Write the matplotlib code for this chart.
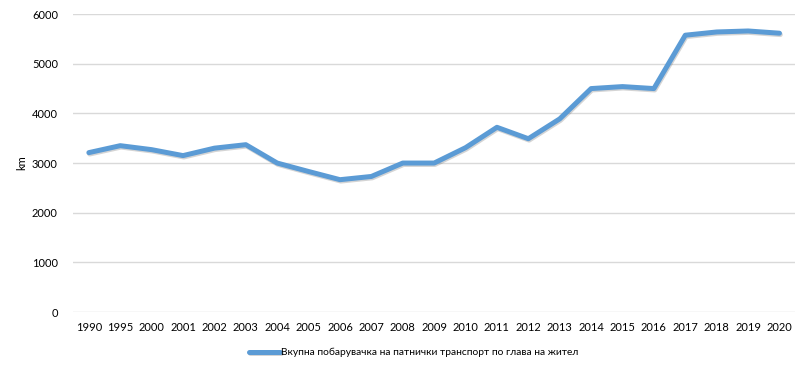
import matplotlib
matplotlib.use("Agg")
import matplotlib.pyplot as plt
import matplotlib.patheffects as pe

years = ['1990', '1995', '2000', '2001', '2002', '2003', '2004', '2005', '2006',
         '2007', '2008', '2009', '2010', '2011', '2012', '2013', '2014', '2015',
         '2016', '2017', '2018', '2019', '2020']
demand_km = [3210, 3350, 3270, 3150, 3300, 3370, 3000, 2830, 2665,
             2730, 3000, 3000, 3310, 3720, 3490, 3890, 4500, 4540,
             4500, 5575, 5640, 5660, 5615]
series_label = 'Вкупна побарувачка на патнички транспорт по глава на жител'

plt.rcParams['font.family'] = ['Lato', 'DejaVu Sans']

fig = plt.figure(figsize=(8.04, 3.71), dpi=100)
ax = fig.add_axes([0.091, 0.159, 0.898, 0.803])

x = list(range(len(years)))
ax.plot(x, demand_km, color='#5B9BD5', linewidth=3.6, solid_capstyle='round',
        solid_joinstyle='round', label=series_label,
        path_effects=[pe.SimpleLineShadow(offset=(0.6, -1.0), alpha=0.25, shadow_color='#555555'),
                      pe.Normal()])

ax.set_xlim(-0.5, len(years) - 0.5)
ax.set_ylim(0, 6000)
ax.set_yticks(range(0, 6001, 1000))
ax.set_xticks(x)
ax.set_xticklabels(years)
ax.tick_params(axis='both', length=0, labelsize=8, colors='#000000')
ax.tick_params(axis='x', pad=7)
ax.tick_params(axis='y', pad=11)
ax.grid(axis='y', color='#d9d9d9', linewidth=1)
ax.set_axisbelow(True)
for s in ax.spines.values():
    s.set_visible(False)

ax.set_ylabel('km', fontsize=8, labelpad=3)

fig.legend(loc='lower center', bbox_to_anchor=(0.515, 0.012), frameon=False,
           fontsize=7.4, handlelength=3.0, handletextpad=0.1)

fig.savefig('out.png', dpi=100)
